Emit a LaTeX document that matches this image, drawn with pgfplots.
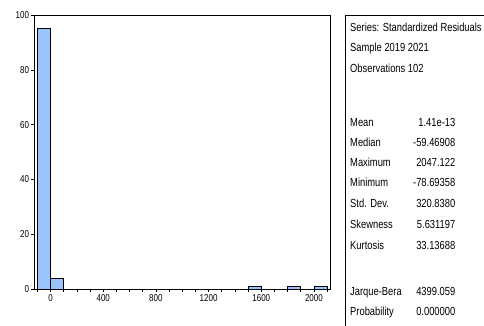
\documentclass[border=0pt]{standalone}
\usepackage{fontspec}
\setmainfont{Liberation Sans}[FakeStretch=0.8]
\usepackage{pgfplots}
\pgfplotsset{compat=1.18}
\definecolor{barblue}{RGB}{155,194,250}
\begin{document}
\begin{tikzpicture}
\useasboundingbox (0pt,0pt) rectangle (484pt,325pt);
\begin{axis}[
  at={(34.5pt,36pt)}, anchor=south west,
  width=295.5pt, height=274pt, scale only axis,
  xmin=-122, xmax=2122, ymin=0, ymax=100,
  xtick={0,400,800,1200,1600,2000},
  minor xtick={-100,100,200,300,500,600,700,900,1000,1100,1300,1400,1500,1700,1800,1900,2100},
  ytick={0,20,40,60,80,100},
  tick align=outside, tick pos=left,
  major tick length=3pt, minor tick length=3pt,
  every tick/.style={black, line width=0.6pt},
  axis line style={line width=0.8pt},
  tick label style={font=\fontsize{10}{11}\selectfont},
  /pgf/number format/assume math mode=true,
  /pgf/number format/1000 sep={},
  xticklabel style={yshift=1pt},
  yticklabel style={xshift=1pt},
]
\addplot[ybar interval, fill=barblue, draw=black, line width=0.6pt] coordinates {
(-100,95) (0,4) (100,0) (200,0) (300,0) (400,0) (500,0) (600,0) (700,0) (800,0) (900,0) (1000,0) (1100,0) (1200,0) (1300,0) (1400,0) (1500,1) (1600,0) (1700,0) (1800,1) (1900,0) (2000,1) (2100,0)
};
\end{axis}
\draw[line width=0.8pt] (345pt,-5pt) -- (345pt,310pt) -- (490pt,310pt);
\begin{scope}[every node/.style={anchor=base west, inner sep=0pt, font=\fontsize{11.7}{13}\selectfont}]
\node at (350pt,294pt) {Series: Standardized Residuals};
\node at (350pt,274pt) {Sample 2019 2021};
\node at (350pt,253pt) {Observations 102};
\node at (350pt,199pt) {Mean};
\node at (350pt,179pt) {Median};
\node at (350pt,159pt) {Maximum};
\node at (350pt,138.5pt) {Minimum};
\node at (350pt,118pt) {Std. Dev.};
\node at (350pt,97pt) {Skewness};
\node at (350pt,76pt) {Kurtosis};
\node at (350pt,30pt) {Jarque-Bera};
\node at (350pt,10pt) {Probability};
\end{scope}
\begin{scope}[every node/.style={anchor=base east, inner sep=0pt, font=\fontsize{11.7}{13}\selectfont}]
\node at (455.5pt,199pt) {1.41e-13};
\node at (455.5pt,179pt) {-59.46908};
\node at (455.5pt,159pt) {2047.122};
\node at (455.5pt,138.5pt) {-78.69358};
\node at (455.5pt,118pt) {320.8380};
\node at (455.5pt,97pt) {5.631197};
\node at (455.5pt,76pt) {33.13688};
\node at (455.5pt,30pt) {4399.059};
\node at (455.5pt,10pt) {0.000000};
\end{scope}
\end{tikzpicture}
\end{document}
